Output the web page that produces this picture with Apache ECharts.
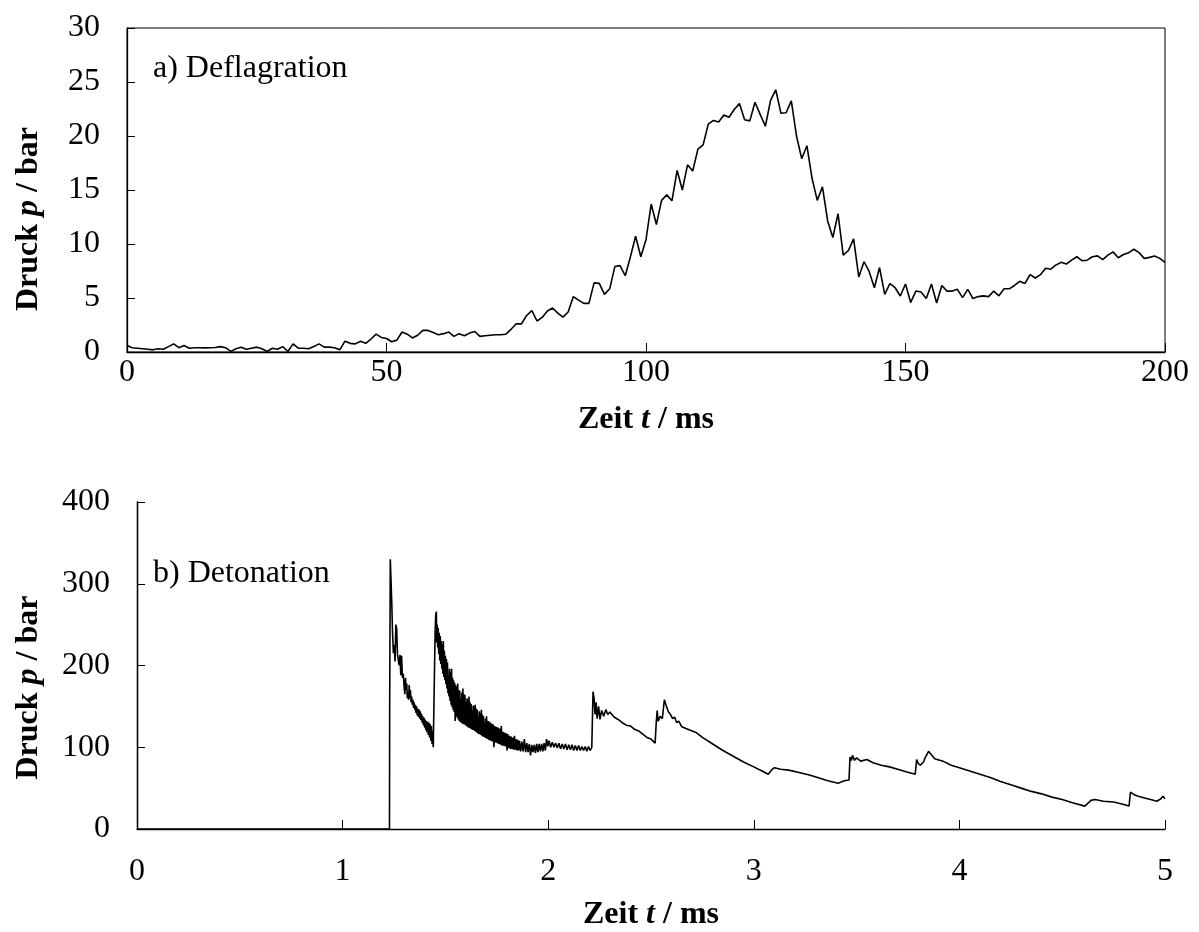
<!DOCTYPE html>
<html>
<head>
<meta charset="utf-8">
<script src="https://cdn.jsdelivr.net/npm/echarts@6/dist/echarts.min.js"></script>
<style>
html,body{margin:0;padding:0;background:#fff;}
#chart{width:1199px;height:932px;}
</style>
</head>
<body>
<div id="chart"></div>
<script>
// ---------- (a) Deflagration: pressure in bar, sampled every 1 ms from 0 to 200 ms ----------
const deflStepMs = 1;
const deflPressure = [
0.6,0.4,0.35,0.3,0.25,0.2,0.3,0.25,0.5,0.75,
0.4,0.6,0.35,0.4,0.4,0.38,0.4,0.42,0.5,0.4,
0.05,0.3,0.45,0.25,0.35,0.45,0.3,0.05,0.35,0.25,
0.5,0.05,0.75,0.35,0.35,0.3,0.5,0.75,0.45,0.45,
0.4,0.2,1.0,0.8,0.75,1.0,0.8,1.2,1.65,1.35,
1.25,0.95,1.1,1.85,1.65,1.3,1.55,2.0,2.0,1.8,
1.6,1.7,1.85,1.45,1.7,1.5,1.75,1.9,1.45,1.5,
1.55,1.6,1.6,1.65,2.1,2.62,2.6,3.38,3.83,2.87,
3.2,3.8,4.07,3.6,3.23,3.7,5.13,4.8,4.5,4.5,
6.4,6.35,5.34,5.85,7.91,8.0,7.06,8.82,10.72,8.82,
10.4,13.7,11.8,14.04,14.55,14.0,16.82,15.0,17.33,16.76,
18.78,19.17,21.1,21.44,21.3,21.95,21.74,22.46,23.0,21.5,
21.4,23.13,22.0,20.9,23.3,24.28,22.1,22.15,23.25,20.0,
17.9,19.1,16.06,14.04,15.3,12.14,10.6,12.8,8.97,9.4,
10.48,6.94,8.36,7.46,5.95,7.82,5.34,6.34,5.95,5.19,
6.3,4.59,5.64,5.55,4.95,6.3,4.53,6.16,5.64,5.64,
5.8,5.04,5.8,4.95,5.13,5.2,5.13,5.64,5.2,5.85,
5.85,6.16,6.55,6.34,7.16,6.85,7.16,7.76,7.67,8.06,
8.3,8.15,8.5,8.82,8.45,8.5,8.82,8.9,8.55,8.97,
9.27,8.73,9.03,9.2,9.51,9.2,8.67,8.76,8.88,8.67,
8.3
];
const deflXTicks = [0, 50, 100, 150, 200];
const deflYTicks = [0, 5, 10, 15, 20, 25, 30];

// ---------- (b) Detonation: [time in ms, pressure in bar] ----------
const detPoints = [
[0,0],[1.228,0],[1.229,150],[1.232,330],[1.236,300],[1.239,278],[1.243,240],[1.247,215],[1.251,225],[1.255,205],
[1.259,250],[1.263,245],[1.267,213],[1.271,215],[1.275,200],[1.279,213],[1.283,188],[1.287,212],[1.291,185],[1.295,190],
[1.300,172],[1.303,165],[1.306,185],[1.309,170],[1.312,178],[1.315,160],[1.318,168],[1.321,158],[1.324,176],[1.327,160],
[1.330,170],[1.333,155],[1.336,162],[1.339,152],[1.342,158],[1.345,148],[1.348,155],[1.351,146],[1.354,152],[1.357,142],
[1.360,150],[1.363,139],[1.366,147],[1.369,137],[1.372,146],[1.375,135],[1.378,144],[1.381,133],[1.384,141],[1.387,130],
[1.390,138],[1.393,127],[1.396,136],[1.399,124],[1.402,134],[1.405,121],[1.408,132],[1.411,118],[1.414,131],[1.417,115],
[1.420,130],[1.423,112],[1.426,128],[1.429,108],[1.432,126],[1.435,104],[1.438,120],[1.441,100],[1.443,98],[1.446,180],
[1.450,240],[1.453,262],[1.456,266],
[1.4575,228],[1.4600,250],[1.4625,222],[1.4650,246],[1.4675,214],[1.4700,240],[1.4725,206],[1.4750,236],[1.4775,202],[1.4800,230],
[1.4825,196],[1.4850,226],[1.4875,190],[1.4900,230],[1.4925,186],[1.4950,218],[1.4975,182],[1.5000,212],[1.5025,177],[1.5050,208],
[1.5075,172],[1.5100,204],[1.5125,166],[1.5150,188],[1.5175,162],[1.5200,196],[1.5225,157],[1.5250,192],[1.5275,152],[1.5300,196],
[1.5325,149],[1.5350,185],[1.5375,146],[1.5400,182],[1.5425,143],[1.5450,179],[1.5475,132],[1.5500,176],[1.5525,138],[1.5550,174],
[1.5575,136],[1.5600,178],[1.5625,134],[1.5650,170],[1.5675,132],[1.5700,169],[1.5725,131],[1.5750,160],[1.5775,130],[1.5800,167],
[1.5825,129],[1.5850,172],[1.5875,128],[1.5900,165],[1.5925,128],[1.5950,164],[1.5975,127],[1.6000,155],[1.6025,126],[1.6050,160],
[1.6075,125],[1.6100,158],[1.6125,124],[1.6150,162],[1.6175,124],[1.6200,155],[1.6225,123],[1.6250,153],[1.6275,122],[1.6300,145],
[1.6325,121],[1.6350,151],[1.6375,121],[1.6400,150],[1.6425,120],[1.6450,152],[1.6475,119],[1.6500,147],[1.6525,118],[1.6550,146],
[1.6575,117],[1.6600,138],[1.6625,116],[1.6650,144],[1.6675,116],[1.6700,142],[1.6725,115],[1.6750,146],[1.6775,114],[1.6800,140],
[1.6825,113],[1.6850,138],[1.6875,113],[1.6900,130],[1.6925,112],[1.6950,135],[1.6975,111],[1.7000,138],
[1.704,110],[1.708,132],[1.712,109],[1.716,131],[1.720,108],[1.724,129],[1.728,107],[1.732,128],[1.736,100],[1.740,126],
[1.744,106],[1.748,125],[1.752,105],[1.756,124],[1.760,104],[1.764,123],[1.768,103],[1.772,126],[1.776,102],[1.780,119],
[1.784,102],[1.788,118],[1.792,101],[1.796,117],[1.800,96],[1.804,116],[1.808,99],[1.812,114],[1.816,98],[1.820,113],
[1.824,98],[1.828,112],[1.832,97],[1.836,114],[1.840,97],[1.844,110],[1.848,96],[1.852,109],[1.856,96],[1.860,108],
[1.866,95],[1.872,107],[1.878,95],[1.884,110],[1.890,94],[1.896,105],[1.902,94],[1.908,104],[1.914,90],[1.920,103],
[1.926,94],[1.932,103],[1.938,93],[1.944,104],[1.950,94],[1.956,104],[1.962,95],[1.968,104],[1.974,95],[1.980,105],
[1.986,96],[1.992,110],[1.998,101],[2.004,108],
[2.012,100],[2.020,106],[2.028,100],[2.036,105],[2.044,99],[2.052,105],[2.060,98],[2.068,104],[2.076,98],[2.084,104],
[2.092,97],[2.100,103],[2.108,97],[2.116,103],[2.124,96],[2.132,102],[2.140,96],[2.148,102],[2.156,96],[2.164,101],
[2.172,96],[2.180,101],[2.188,95],[2.196,101],[2.204,96],[2.212,100],
[2.218,168],[2.223,160],[2.228,140],[2.233,155],[2.238,135],[2.245,150],[2.252,134],[2.260,145],[2.270,138],[2.280,146],
[2.290,140],[2.300,143],[2.320,137],[2.340,134],[2.360,130],[2.380,127],[2.400,126],[2.420,122],[2.440,120],[2.460,116],
[2.480,112],[2.500,110],[2.520,105],[2.525,128],[2.530,145],[2.535,132],[2.545,138],[2.555,135],[2.565,158],[2.575,150],
[2.585,143],[2.595,140],[2.605,135],[2.615,137],[2.625,130],[2.635,132],[2.650,125],[2.670,123],[2.700,120],[2.720,118],
[2.750,112],[2.800,104],[2.850,96],[2.900,89],[2.950,82],[3.000,76],[3.040,71],[3.070,67],[3.090,73],[3.100,75],
[3.130,73],[3.170,72],[3.220,69],[3.270,66],[3.310,63],[3.360,59],[3.410,56],[3.440,59],[3.463,60],[3.468,88],
[3.475,84],[3.480,90],[3.490,84],[3.500,87],[3.520,83],[3.550,85],[3.580,81],[3.620,78],[3.660,76],[3.700,73],
[3.740,70],[3.785,67],[3.792,85],[3.800,80],[3.810,78],[3.825,82],[3.835,88],[3.850,95],[3.860,92],[3.880,86],
[3.920,83],[3.960,78],[4.000,75],[4.050,71],[4.100,67],[4.150,63],[4.200,58],[4.250,54],[4.300,50],[4.350,46],
[4.400,43],[4.450,39],[4.500,36],[4.550,32],[4.610,28],[4.640,35],[4.660,36],[4.700,34],[4.750,33],[4.800,30],
[4.825,28],[4.832,45],[4.840,44],[4.850,42],[4.870,40],[4.900,38],[4.930,36],[4.960,34],[4.980,37],[4.990,40],
[5.000,37]
];
const detXTicks = [0, 1, 2, 3, 4, 5];
const detYTicks = [0, 100, 200, 300, 400];

// ---------- chart ----------
const FONT = "'Liberation Serif','Times New Roman',serif";
const FS = 32;
const deflData = deflPressure.map((p, i) => [i * deflStepMs, p]);

const labelStyle = {color: '#000', fontFamily: FONT, fontSize: FS};
const nameRich = {
  b: {fontFamily: FONT, fontSize: FS, fontWeight: 'bold', color: '#000'},
  i: {fontFamily: FONT, fontSize: FS, fontWeight: 'bold', fontStyle: 'italic', color: '#000'}
};
const axisLine = {show: true, onZero: false, lineStyle: {color: '#000', width: 1.3}};

function xAx(gridIndex, ticks, gap, labelMargin) {
  return {
    type: 'value', gridIndex, min: ticks[0], max: ticks[ticks.length-1],
    interval: ticks[1]-ticks[0],
    name: '{b|Zeit }{i|t}{b| / ms}', nameLocation: 'middle', nameGap: gap,
    nameTextStyle: {rich: nameRich},
    axisLine, axisTick: {show: true, inside: true, length: 9, lineStyle: {color: '#000', width: 1}},
    axisLabel: Object.assign({margin: labelMargin}, labelStyle),
    splitLine: {show: false}
  };
}
function yAx(gridIndex, ticks, gap, shift) {
  return {
    type: 'value', gridIndex, min: ticks[0], max: ticks[ticks.length-1],
    interval: ticks[1]-ticks[0],
    name: '{b|Druck }{i|p}{b| / bar}', nameLocation: 'middle', nameGap: gap,
    nameTextStyle: {rich: nameRich, padding: [0, shift, 0, 0]},
    axisLine, axisTick: {show: true, inside: true, length: 8, lineStyle: {color: '#000', width: 1}},
    axisLabel: Object.assign({margin: 27}, labelStyle),
    splitLine: {show: false}
  };
}

const chart = echarts.init(document.getElementById('chart'), null, {renderer: 'canvas'});
chart.setOption({
  animation: false,
  backgroundColor: '#fff',
  title: [
    {text: 'a) Deflagration', left: 153, top: 53, padding: 0,
     textStyle: {fontFamily: FONT, fontSize: FS, fontWeight: 'normal', color: '#000'}},
    {text: 'b) Detonation', left: 153, top: 558, padding: 0,
     textStyle: {fontFamily: FONT, fontSize: FS, fontWeight: 'normal', color: '#000'}}
  ],
  grid: [
    {left: 127, top: 28, width: 1038, height: 324, show: true, borderColor: '#000', borderWidth: 1, backgroundColor: 'transparent'},
    {left: 137, top: 502, width: 1028, height: 331}
  ],
  xAxis: [xAx(0, deflXTicks, 52, 5), xAx(1, detXTicks, 70, 27)],
  yAxis: [
    yAx(0, deflYTicks, 82, 58),
    yAx(1, detYTicks, 92, 44),
    {type: 'value', gridIndex: 1, position: 'right', min: 0, max: 400,
     axisLine: {show: true, lineStyle: {color: '#000', width: 1.3}}, axisTick: {show: false},
     axisLabel: {show: false}, splitLine: {show: false}}
  ],
  series: [
    {type: 'line', xAxisIndex: 0, yAxisIndex: 0, data: deflData, showSymbol: false,
     lineStyle: {color: '#000', width: 1.6}, clip: true},
    {type: 'line', xAxisIndex: 1, yAxisIndex: 1, data: detPoints, showSymbol: false,
     lineStyle: {color: '#000', width: 1.6}, clip: true}
  ]
});
</script>
</body>
</html>
